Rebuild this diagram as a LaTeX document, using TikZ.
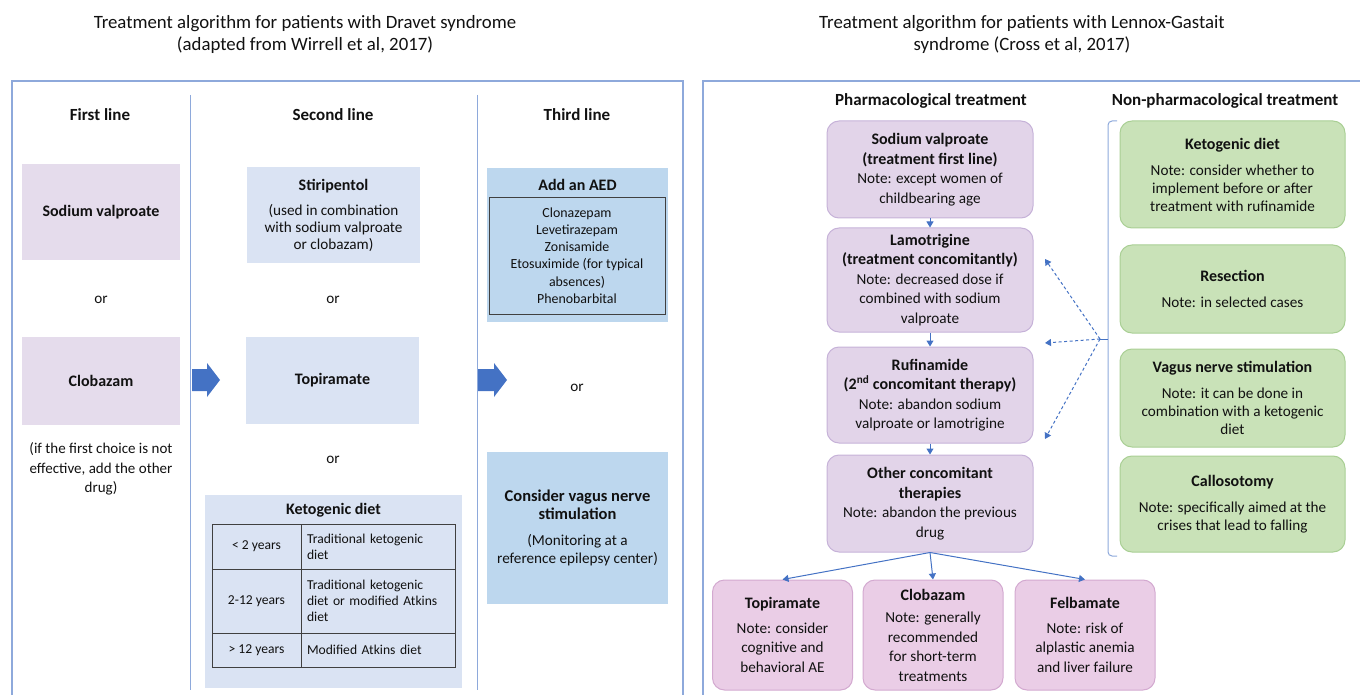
\documentclass[tikz,border=0pt]{standalone}
\usepackage{fontspec}
\setmainfont{Carlito}
\usetikzlibrary{arrows.meta,positioning}
\definecolor{framecol}{HTML}{8EA9DB}
\definecolor{arrowcol}{HTML}{4472C4}
\definecolor{lavender}{HTML}{E5DCEC}
\definecolor{paleblue}{HTML}{DAE3F3}
\definecolor{midblue}{HTML}{BDD7EE}
\definecolor{pharmfill}{HTML}{E2D4E9}
\definecolor{pharmline}{HTML}{C6B2D8}
\definecolor{pinkfill}{HTML}{EACDE6}
\definecolor{pinkline}{HTML}{D3A9D0}
\definecolor{greenfill}{HTML}{C9E2B8}
\definecolor{greenline}{HTML}{A9CF94}
\definecolor{inkcol}{HTML}{111111}
\newcommand\boxtitle[1]{{\fontsize{16}{18}\selectfont\textbf{#1}}}
\tikzset{
    panel/.style = {
        draw=framecol,
        line width=1.6pt,
        },
    divider/.style = {
        draw=framecol,
        line width=1pt,
        },
    titletext/.style = {
        font=\fontsize{18.8}{22}\selectfont,
        align=center,
        text=inkcol,
        },
    head/.style = {
        font=\fontsize{17}{18}\selectfont\bfseries,
        text=inkcol,
        },
    plaintext/.style = {
        font=\fontsize{15.2}{17}\selectfont,
        align=center,
        text=inkcol,
        },
    flatbox/.style = {
        plaintext,
        inner sep=2pt,
        outer sep=0pt,
        },
    firstbox/.style = {
        flatbox,
        fill=lavender,
        minimum width=158pt,
        },
    secondbox/.style = {
        flatbox,
        fill=paleblue,
        minimum width=173pt,
        },
    thirdbox/.style = {
        flatbox,
        fill=midblue,
        minimum width=181pt,
        },
    cellbox/.style = {
        draw=black!75,
        line width=0.8pt,
        outer sep=0pt,
        align=center,
        font=\fontsize{13.6}{16}\selectfont,
        text=inkcol,
        },
    listbox/.style = {
        cellbox,
        line width=0.9pt,
        minimum width=176pt,
        minimum height=117pt,
        font=\fontsize{13.9}{17.2}\selectfont,
        },
    pharmbox/.style = {
        plaintext,
        font=\fontsize{15.2}{19.5}\selectfont,
        rounded corners=12pt,
        draw=pharmline,
        fill=pharmfill,
        line width=1pt,
        minimum width=206pt,
        },
    optbox/.style = {
        pharmbox,
        draw=pinkline,
        fill=pinkfill,
        minimum width=140pt,
        minimum height=110pt,
        },
    nonpharmbox/.style = {
        pharmbox,
        font=\fontsize{15.2}{18}\selectfont,
        draw=greenline,
        fill=greenfill,
        minimum width=225pt,
        },
    flowarrow/.style = {
        draw=arrowcol,
        line width=1pt,
        -{Triangle[length=6pt,width=7pt]},
        },
    linkarrow/.style = {
        flowarrow,
        dash pattern=on 3pt off 2.5pt,
        },
}

\begin{document}
\begin{tikzpicture}[x=1pt, y=-1pt, node distance=0pt]
\useasboundingbox (0,0) rectangle (1360,695);

% titles
\node[titletext] (dravet title) at (305,34) {Treatment algorithm for patients with Dravet syndrome\\(adapted from Wirrell et al, 2017)};
\node[titletext] (lgs title) at (1022,34) {Treatment algorithm for patients with Lennox-Gastait\\syndrome (Cross et al, 2017)};

% frames
\draw[panel] (12,700) |- (683,81) -- (683,700);
\draw[panel] (703,700) |- (1366,81);
\draw[divider] (190,95) -- (190,690);
\draw[divider] (477,95) -- (477,690);

% Dravet: first line
\node[head] (first head) at (100,115) {First line};
\node[firstbox, minimum height=96pt] (valproate) at (101,212) {\boxtitle{Sodium valproate}};
\node[plaintext] (or a) at (101,300) {or};
\node[firstbox, minimum height=88pt] (clobazam) at (101,381) {\boxtitle{Clobazam}};
\node[plaintext, font=\fontsize{15}{19.5}\selectfont] (first note) at (101,469) {(if the first choice is not\\effective, add the other\\drug)};

% Dravet: second line
\node[head] (second head) at (333,115) {Second line};
\node[secondbox, minimum height=96pt] (stiripentol) at (333.5,215) {\boxtitle{Stiripentol}\\[8pt](used in combination\\with sodium valproate\\or clobazam)};
\node[plaintext] (or b) at (333,300) {or};
\node[secondbox, minimum height=87pt] (topiramate) at (332.5,380.5) {\boxtitle{Topiramate}};
\node[plaintext] (or c) at (333,460) {or};
\node[secondbox, minimum width=257pt, minimum height=193pt] (keto) at (333.5,591.5) {};
\node[head, font=\fontsize{16}{18}\selectfont\bfseries] (keto head) at (333.5,510) {Ketogenic diet};
\node[cellbox, anchor=north west, minimum width=89pt, minimum height=45pt] (age a) at (212,524) {< 2 years};
\node[cellbox, right=of age a, minimum width=154pt, minimum height=45pt, text width=142pt, align=left] (diet a) {Traditional ketogenic\\diet};
\node[cellbox, below=of age a, minimum width=89pt, minimum height=64pt] (age b) {2-12 years};
\node[cellbox, right=of age b, minimum width=154pt, minimum height=64pt, text width=142pt, align=left] (diet b) {Traditional ketogenic\\diet or modified Atkins\\diet};
\node[cellbox, below=of age b, minimum width=89pt, minimum height=34pt] (age c) {> 12 years};
\node[cellbox, right=of age c, minimum width=154pt, minimum height=34pt, text width=142pt, align=left] (diet c) {Modified Atkins diet};

% Dravet: third line
\node[head] (third head) at (577,115) {Third line};
\node[thirdbox, minimum height=154pt] (aed) at (577.5,245) {};
\node[head, font=\fontsize{16}{18}\selectfont\bfseries] (aed head) at (577.5,185) {Add an AED};
\node[listbox] (aed list) at (577,255.5) {Clonazepam\\Levetirazepam\\Zonisamide\\Etosuximide (for typical\\absences)\\Phenobarbital};
\node[plaintext] (or d) at (577,388) {or};
\node[thirdbox, minimum height=152pt, font=\fontsize{15.2}{18.5}\selectfont] (vns) at (577.5,528) {{\fontsize{16.5}{18}\selectfont\textbf{Consider vagus nerve}}\\{\fontsize{16.5}{18}\selectfont\textbf{stimulation}}\\[7pt](Monitoring at a\\reference epilepsy center)};

% block arrows between the lines
\fill[arrowcol] (192,369) -- (207,369) -- (207,363) -- (220,380) -- (207,397) -- (207,391) -- (192,391) -- cycle;
\fill[arrowcol] (478,369) -- (494,369) -- (494,363) -- (507,380) -- (494,397) -- (494,391) -- (478,391) -- cycle;

% LGS: pharmacological
\node[head] (pharm head) at (931,101) {Pharmacological treatment};
\node[pharmbox, minimum height=97pt] (valproate lgs) at (930,169.5) {\boxtitle{Sodium valproate}\\\boxtitle{(treatment first line)}\\Note: except women of\\childbearing age};
\node[pharmbox, minimum height=104pt] (lamotrigine) at (930,280) {\boxtitle{Lamotrigine}\\\boxtitle{(treatment concomitantly)}\\Note: decreased dose if\\combined with sodium\\valproate};
\node[pharmbox, minimum height=96pt] (rufinamide) at (930,395) {\boxtitle{Rufinamide}\\\boxtitle{(2\textsuperscript{nd} concomitant therapy)}\\Note: abandon sodium\\valproate or lamotrigine};
\node[pharmbox, minimum height=97pt] (others) at (930,503.5) {\boxtitle{Other concomitant}\\\boxtitle{therapies}\\Note: abandon the previous\\drug};

\node[optbox] (topiramate lgs) at (782.5,635) {\boxtitle{Topiramate}\\[5pt]Note: consider\\cognitive and\\behavioral AE};
\node[optbox] (clobazam lgs) at (933,635) {\boxtitle{Clobazam}\\[3pt]Note: generally\\recommended\\for short-term\\treatments};
\node[optbox] (felbamate) at (1085,635) {\boxtitle{Felbamate}\\[5pt]Note: risk of\\alplastic anemia\\and liver failure};

\draw[flowarrow] (valproate lgs) -- (lamotrigine);
\draw[flowarrow] (lamotrigine) -- (rufinamide);
\draw[flowarrow] (rufinamide) -- (others);
\draw[flowarrow] (others.south) -- (topiramate lgs.north);
\draw[flowarrow] (others.south) -- (clobazam lgs.north);
\draw[flowarrow] (others.south) -- (felbamate.north);

% LGS: non-pharmacological
\node[head] (nonpharm head) at (1225,101) {Non-pharmacological treatment};
\node[nonpharmbox, minimum height=107pt] (keto lgs) at (1232.5,174.5) {\boxtitle{Ketogenic diet}\\[8pt]Note: consider whether to\\implement before or after\\treatment with rufinamide};
\node[nonpharmbox, minimum height=88pt] (resection) at (1232.5,289) {\boxtitle{Resection}\\[8pt]Note: in selected cases};
\node[nonpharmbox, minimum height=98pt] (vns lgs) at (1232.5,398) {\boxtitle{Vagus nerve stimulation}\\[8pt]Note: it can be done in\\combination with a ketogenic\\diet};
\node[nonpharmbox, minimum height=96pt] (callosotomy) at (1232.5,504) {\boxtitle{Callosotomy}\\[8pt]Note: specifically aimed at the\\crises that lead to falling};

% bracket and dashed links
\draw[divider, rounded corners=4pt] (1117,121) -- (1108,121) -- (1108,556) -- (1117,556);
\coordinate (bracket mid) at (1108,339);
\coordinate (hub) at (1100,339);
\coordinate (to lamotrigine) at (1045,259);
\coordinate (to rufinamide) at (1045,343);
\coordinate (to others) at (1045,439);
\draw[arrowcol, line width=1pt] (bracket mid) -- (hub);
\draw[linkarrow] (hub) -- (to lamotrigine);
\draw[linkarrow] (hub) -- (to rufinamide);
\draw[linkarrow] (hub) -- (to others);
\end{tikzpicture}
\end{document}
